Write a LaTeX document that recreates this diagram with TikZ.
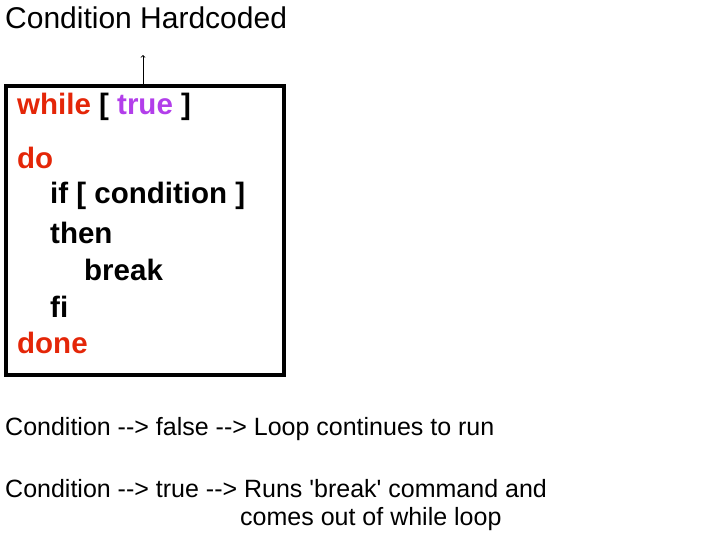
\documentclass[tikz,border=0pt]{standalone}
\usepackage{fontspec}
\setmainfont{Liberation Sans}
\definecolor{kwred}{RGB}{228,38,8}
\definecolor{kwpurple}{RGB}{178,62,234}
\begin{document}
\begin{tikzpicture}[x=1pt,y=-1pt,
  code/.style={anchor=west, inner sep=0pt, font=\fontsize{29.5}{34}\selectfont\bfseries},
  plain/.style={anchor=west, inner sep=0pt, font=\fontsize{25}{30}\selectfont},
  kw/.style={text=kwred}
]
\useasboundingbox (0,0) rectangle (723,544);

% code box
\node[draw, line width=4pt, minimum width=278pt, minimum height=289pt, anchor=north west] (loopbox) at (4,84) {};
\node[plain, font=\fontsize{30}{34}\selectfont] (title) at (5,18) {Condition Hardcoded};
\coordinate (tip) at (143,55);
\draw[->, line width=0.8pt] (loopbox.north -| tip) -- (tip);

% lines of the loop
\node[code] (while) at (17,107) {\textcolor{kwred}{while} [ \textcolor{kwpurple}{true} ]};
\node[code, kw] (do) at (17,158) {do};
\node[code] (if) at (50,196) {if [ condition ]};
\node[code] (then) at (50,233) {then};
\node[code] (brk) at (84,270) {break};
\node[code] (fi) at (50,307) {fi};
\node[code, kw] (done) at (17,343) {done};

% notes
\node[plain] (falsecase) at (5,429) {Condition {-}{-}> false {-}{-}> Loop continues to run};
\node[plain] (truecase) at (5,489) {Condition {-}{-}> true {-}{-}> Runs \textquotesingle break\textquotesingle{} command and};
\node[plain] (truecont) at (240,519) {comes out of while loop};
\end{tikzpicture}
\end{document}
